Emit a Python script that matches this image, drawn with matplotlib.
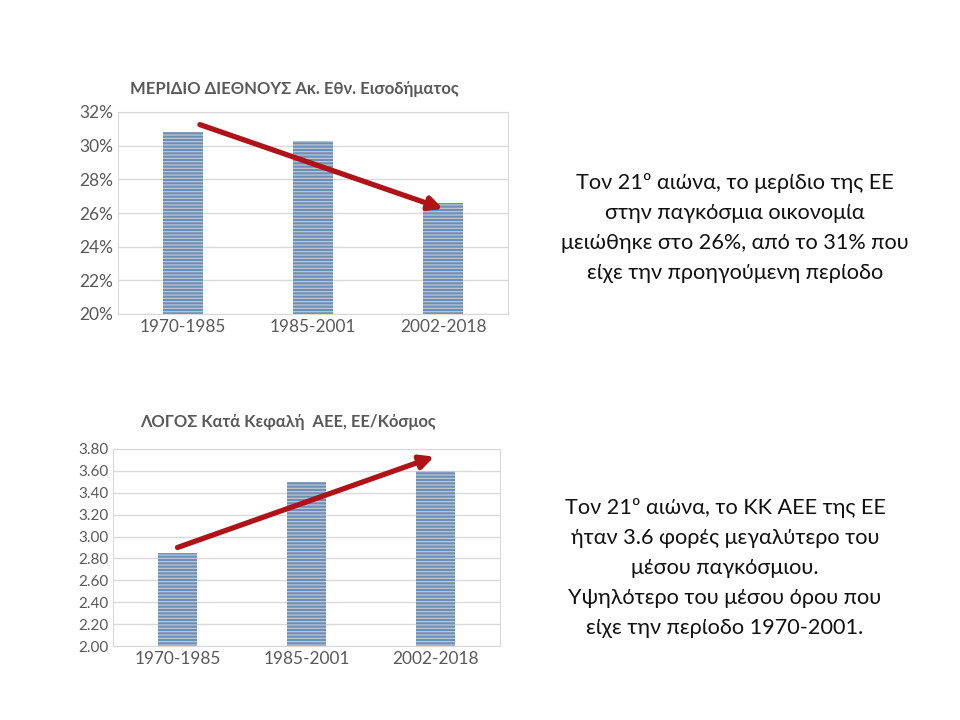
import matplotlib.pyplot as plt
from matplotlib.ticker import FuncFormatter

plt.rcParams['font.family'] = ['Lato', 'Noto Sans', 'DejaVu Sans']
plt.rcParams['hatch.linewidth'] = 0.9

periods = ["1970-1985", "1985-2001", "2002-2018"]

share_values = [30.8, 30.3, 26.6]          # % of world income
share_arrow = [(0.13, 31.25), (2.0, 26.25)]

ratio_values = [2.85, 3.50, 3.60]          # EU / world per-capita GDP
ratio_arrow = [(0.0, 2.90), (1.99, 3.73)]

title_share = "ΜΕΡΙΔΙΟ ΔΙΕΘΝΟΥΣ Ακ. Εθν. Εισοδήματος"
title_ratio = "ΛΟΓΟΣ Κατά Κεφαλή  ΑΕΕ, ΕΕ/Κόσμος"

note_share = ("Τον 21º αιώνα, το μερίδιο της ΕΕ\n"
              "στην παγκόσμια οικονομία\n"
              "μειώθηκε στο 26%, από το 31% που\n"
              "είχε την προηγούμενη περίοδο")
note_ratio = ("Τον 21º αιώνα, το ΚΚ ΑΕΕ της ΕΕ\n"
              "ήταν 3.6 φορές μεγαλύτερο του\n"
              "μέσου παγκόσμιου.\n"
              "Υψηλότερο του μέσου όρου που\n"
              "είχε την περίοδο 1970-2001.")

BAR = "#6f8eb2"
STRIPE = "#b8c9dc"
ARROW = "#b01218"
GRID = "#d9d9d9"
TEXT = "#595959"


def style_axes(ax):
    ax.set_xlim(-0.5, 2.5)
    ax.grid(axis="y", color=GRID, linewidth=1)
    ax.set_axisbelow(True)
    for s in ax.spines.values():
        s.set_color(GRID)
    ax.tick_params(length=0, colors=TEXT)
    ax.set_xticks(range(len(periods)))
    ax.set_xticklabels(periods, fontsize=12.4)


fig = plt.figure(figsize=(9.6, 7.2), dpi=100)

# top chart
ax1 = fig.add_axes([118 / 960, 1 - 314 / 720, 390 / 960, 202 / 720])
ax1.bar(range(len(periods)), share_values, width=0.31, color=BAR,
        hatch="-----", edgecolor=STRIPE, linewidth=0)
ax1.set_ylim(20, 32)
ax1.set_yticks(range(20, 33, 2))
ax1.yaxis.set_major_formatter(FuncFormatter(lambda v, p: f"{v:.0f}%"))
style_axes(ax1)
ax1.tick_params(axis="y", labelsize=12.5)
ax1.annotate("", xy=share_arrow[1], xytext=share_arrow[0],
             arrowprops=dict(arrowstyle="-|>", color=ARROW, lw=3.8,
                             mutation_scale=20, shrinkA=0, shrinkB=0))
fig.text(294 / 960, 1 - 89 / 720, title_share, ha="center", va="center",
         fontsize=12, fontweight="bold", color=TEXT)

# bottom chart
ax2 = fig.add_axes([113 / 960, 1 - 646 / 720, 387 / 960, 197 / 720])
ax2.bar(range(len(periods)), ratio_values, width=0.31, color=BAR,
        hatch="-----", edgecolor=STRIPE, linewidth=0)
ax2.set_ylim(2.0, 3.8)
ax2.set_yticks([2.0 + 0.2 * i for i in range(10)])
ax2.yaxis.set_major_formatter(FuncFormatter(lambda v, p: f"{v:.2f}"))
style_axes(ax2)
ax2.tick_params(axis="y", labelsize=11)
ax2.annotate("", xy=ratio_arrow[1], xytext=ratio_arrow[0],
             arrowprops=dict(arrowstyle="-|>", color=ARROW, lw=3.8,
                             mutation_scale=20, shrinkA=0, shrinkB=0))
fig.text(288 / 960, 1 - 422 / 720, title_ratio, ha="center", va="center",
         fontsize=11.9, fontweight="bold", color=TEXT)

# notes on the right
fig.text(735 / 960, 1 - 228 / 720, note_share, ha="center", va="center",
         fontsize=15.6, color="#111111", linespacing=1.62)
fig.text(725 / 960, 1 - 568 / 720, note_ratio, ha="center", va="center",
         fontsize=15.6, color="#111111", linespacing=1.62)

fig.savefig("out.png", dpi=100)
